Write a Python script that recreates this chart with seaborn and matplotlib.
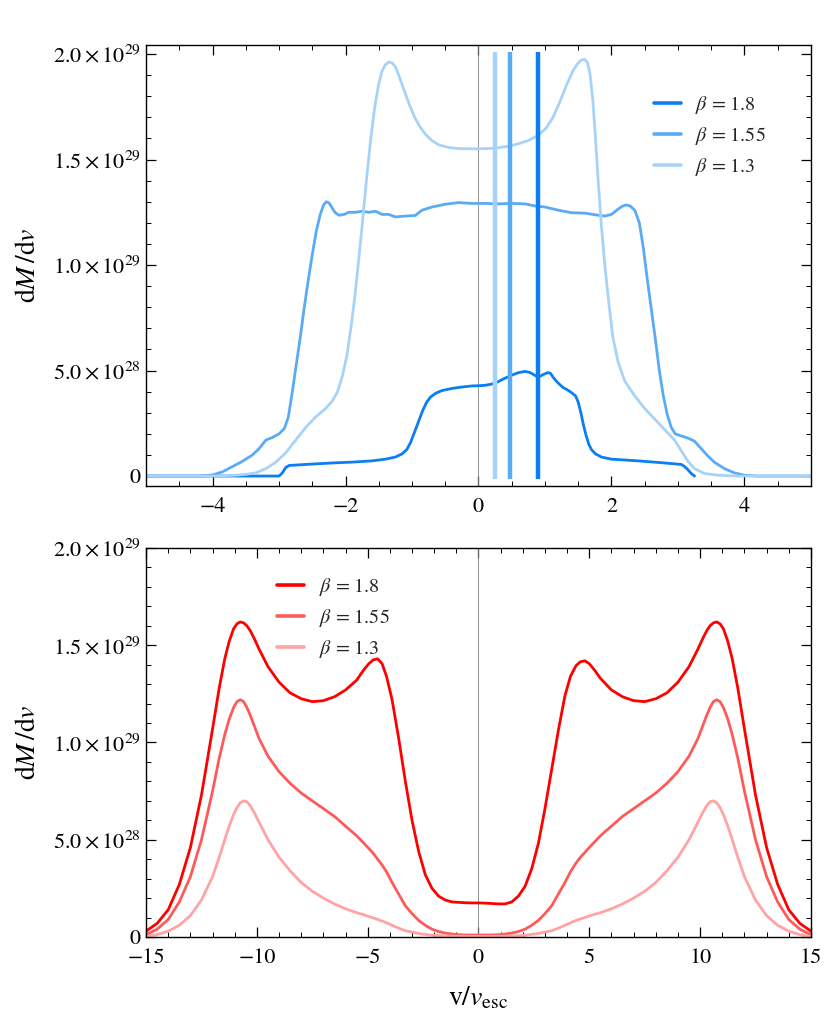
import numpy as np
import pandas as pd
import matplotlib
matplotlib.use('Agg')
import matplotlib.pyplot as plt
from matplotlib.ticker import MultipleLocator
import seaborn as sns

# 라벨/범례
labels = [r'$\beta$ = 1.8', r'$\beta$ = 1.55', r'$\beta$ = 1.3']
blues = ['#0a7ff5', '#5aabf5', '#a8d3f9']
reds = ['#ff0000', '#ff5a5a', '#ffa3a3']

# y 값 단위: 1e29
ytick_vals = [0, 0.5, 1.0, 1.5, 2.0]
ytick_labels = ['0', r'$5.0\times10^{28}$', r'$1.0\times10^{29}$',
                r'$1.5\times10^{29}$', r'$2.0\times10^{29}$']

# 위 패널 (v/v_esc, -5..5)
top_x_18 = [-5, -3.0, -2.95, -2.9, -2.85, -2.6, -2.2, -1.9, -1.6, -1.4, -1.25, -1.15, -1.08, -1.02,
            -0.96, -0.9, -0.84, -0.78, -0.72, -0.64, -0.55, -0.4, -0.25, -0.1, 0.0, 0.1, 0.2, 0.3,
            0.4, 0.5, 0.6, 0.7, 0.78, 0.86, 0.92, 0.98, 1.04, 1.08, 1.13, 1.2, 1.27, 1.34, 1.4,
            1.46, 1.5, 1.54, 1.58, 1.62, 1.66, 1.7, 1.76, 1.85, 2.0, 2.4, 2.8, 3.05, 3.1, 3.15,
            3.2, 3.25]
top_y_18 = [0, 0, 0.015, 0.04, 0.05, 0.055, 0.062, 0.066, 0.072, 0.08, 0.09, 0.105, 0.125, 0.16,
            0.21, 0.26, 0.31, 0.35, 0.375, 0.393, 0.405, 0.415, 0.422, 0.427, 0.428, 0.43, 0.436,
            0.448, 0.464, 0.478, 0.49, 0.496, 0.49, 0.475, 0.472, 0.482, 0.49, 0.488, 0.465, 0.44,
            0.42, 0.408, 0.395, 0.38, 0.35, 0.3, 0.24, 0.19, 0.15, 0.125, 0.105, 0.09, 0.08, 0.072,
            0.062, 0.055, 0.045, 0.03, 0.012, 0.0]

top_x_155 = [-5, -4.2, -4.0, -3.85, -3.7, -3.55, -3.4, -3.3, -3.2, -3.1, -3.0, -2.92, -2.86, -2.8,
             -2.74, -2.68, -2.62, -2.56, -2.5, -2.44, -2.38, -2.33, -2.29, -2.25, -2.21, -2.16, -2.1,
             -2.02, -1.95, -1.85, -1.75, -1.65, -1.55, -1.45, -1.35, -1.25, -1.1, -0.95, -0.85,
             -0.7, -0.5, -0.3, -0.1, 0.1, 0.3, 0.5, 0.7, 0.85, 1.0, 1.2, 1.4, 1.6, 1.8, 1.9, 2.0,
             2.1, 2.16, 2.22, 2.28, 2.35, 2.42, 2.48, 2.54, 2.6, 2.66, 2.72, 2.78, 2.84, 2.9, 2.96,
             3.05, 3.15, 3.25, 3.35, 3.45, 3.55, 3.7, 3.85, 4.0, 4.2, 5.0]
top_y_155 = [0, 0, 0.005, 0.02, 0.045, 0.07, 0.1, 0.13, 0.17, 0.183, 0.2, 0.225, 0.28, 0.4, 0.53,
             0.66, 0.8, 0.93, 1.05, 1.16, 1.24, 1.285, 1.3, 1.295, 1.275, 1.25, 1.236, 1.24, 1.25,
             1.25, 1.255, 1.25, 1.255, 1.24, 1.24, 1.228, 1.232, 1.235, 1.26, 1.275, 1.288, 1.296,
             1.292, 1.292, 1.29, 1.292, 1.29, 1.28, 1.275, 1.26, 1.248, 1.246, 1.236, 1.232, 1.24,
             1.265, 1.278, 1.285, 1.28, 1.26, 1.2, 1.08, 0.93, 0.79, 0.65, 0.5, 0.38, 0.29, 0.23,
             0.2, 0.19, 0.18, 0.165, 0.13, 0.095, 0.065, 0.035, 0.015, 0.004, 0, 0]

top_x_13 = [-5, -4.0, -3.7, -3.5, -3.35, -3.2, -3.05, -2.9, -2.75, -2.6, -2.45, -2.3, -2.2, -2.12,
            -2.05, -1.98, -1.92, -1.86, -1.8, -1.74, -1.68, -1.62, -1.56, -1.5, -1.45, -1.4,
            -1.35, -1.3, -1.25, -1.2, -1.12, -1.04, -0.96, -0.88, -0.8, -0.7, -0.6, -0.45, -0.3,
            -0.15, 0.0, 0.15, 0.3, 0.45, 0.6, 0.75, 0.9, 1.02, 1.12, 1.22, 1.32, 1.42, 1.48, 1.54,
            1.59, 1.64, 1.68, 1.72, 1.76, 1.8, 1.85, 1.9, 1.96, 2.02, 2.1, 2.2, 2.35, 2.5, 2.65,
            2.8, 2.95, 3.05, 3.15, 3.25, 3.4, 3.6, 3.9, 5.0]
top_y_13 = [0, 0, 0.003, 0.008, 0.015, 0.035, 0.065, 0.11, 0.17, 0.23, 0.28, 0.32, 0.355, 0.4,
            0.47, 0.57, 0.7, 0.85, 1.03, 1.22, 1.42, 1.6, 1.75, 1.86, 1.92, 1.95, 1.962, 1.958,
            1.94, 1.9, 1.83, 1.76, 1.7, 1.655, 1.62, 1.59, 1.57, 1.557, 1.552, 1.551, 1.551,
            1.552, 1.556, 1.563, 1.575, 1.59, 1.615, 1.65, 1.7, 1.77, 1.85, 1.92, 1.95, 1.97,
            1.975, 1.96, 1.9, 1.78, 1.6, 1.4, 1.18, 1.0, 0.82, 0.66, 0.54, 0.45, 0.38, 0.32,
            0.27, 0.22, 0.17, 0.12, 0.07, 0.035, 0.012, 0.004, 0, 0]

# 위 패널 세로선 위치 (1.8, 1.55, 1.3)
vline_x = [0.895, 0.475, 0.25]

# 아래 패널 (-15..15)
bot_x = [-15, -14.5, -14, -13.5, -13, -12.5, -12, -11.7, -11.45, -11.25, -11.05, -10.9, -10.75,
         -10.6, -10.45, -10.3, -10.1, -9.9, -9.5, -9, -8.5, -8, -7.5, -7, -6.5, -6, -5.5, -5.2,
         -4.95, -4.75, -4.55, -4.35, -4.15, -3.9, -3.6, -3.3, -3, -2.7, -2.4, -2.1, -1.8, -1.5,
         -1.2, -0.9, -0.6, -0.3, 0, 0.3, 0.6, 0.9, 1.2, 1.5, 1.8, 2.1, 2.4, 2.7, 3.0, 3.3, 3.6,
         3.9, 4.15, 4.4, 4.6, 4.8, 5.0, 5.25, 5.5, 6, 6.5, 7, 7.5, 8, 8.5, 9, 9.5, 9.9, 10.1,
         10.3, 10.45, 10.6, 10.75, 10.9, 11.05, 11.25, 11.45, 11.7, 12, 12.5, 13, 13.5, 14,
         14.5, 15]
bot_y_18 = [0.03, 0.07, 0.14, 0.27, 0.46, 0.73, 1.07, 1.28, 1.43, 1.52, 1.585, 1.61, 1.62, 1.615,
            1.6, 1.575, 1.53, 1.48, 1.39, 1.31, 1.255, 1.225, 1.21, 1.215, 1.235, 1.27, 1.32, 1.37,
            1.405, 1.425, 1.43, 1.405, 1.34, 1.22, 1.02, 0.8, 0.6, 0.44, 0.32, 0.25, 0.21, 0.19,
            0.18, 0.178, 0.176, 0.175, 0.175, 0.174, 0.172, 0.17, 0.17, 0.18, 0.21, 0.26, 0.35,
            0.48, 0.66, 0.86, 1.06, 1.24, 1.34, 1.395, 1.415, 1.42, 1.405, 1.37, 1.33, 1.27, 1.235,
            1.215, 1.21, 1.225, 1.255, 1.31, 1.39, 1.48, 1.53, 1.575, 1.6, 1.615, 1.62, 1.61, 1.585,
            1.52, 1.43, 1.28, 1.07, 0.73, 0.46, 0.27, 0.14, 0.07, 0.03]
bot_y_155 = [0.012, 0.04, 0.09, 0.18, 0.31, 0.5, 0.75, 0.92, 1.04, 1.12, 1.18, 1.21, 1.22, 1.21,
             1.18, 1.14, 1.08, 1.02, 0.93, 0.85, 0.79, 0.74, 0.7, 0.66, 0.62, 0.57, 0.52, 0.485,
             0.455, 0.43, 0.4, 0.37, 0.335, 0.28, 0.22, 0.16, 0.12, 0.085, 0.06, 0.04, 0.028, 0.02,
             0.015, 0.012, 0.01, 0.01, 0.01, 0.01, 0.01, 0.012, 0.015, 0.02, 0.028, 0.04, 0.06,
             0.085, 0.12, 0.16, 0.22, 0.28, 0.335, 0.38, 0.41, 0.435, 0.46, 0.49, 0.52, 0.57, 0.62,
             0.66, 0.7, 0.74, 0.79, 0.85, 0.93, 1.02, 1.08, 1.14, 1.18, 1.21, 1.22, 1.21, 1.18,
             1.12, 1.04, 0.92, 0.75, 0.5, 0.31, 0.18, 0.09, 0.04, 0.012]
bot_y_13 = [0.003, 0.012, 0.03, 0.06, 0.11, 0.19, 0.31, 0.41, 0.5, 0.57, 0.63, 0.665, 0.69, 0.7,
            0.695, 0.675, 0.635, 0.59, 0.5, 0.41, 0.34, 0.28, 0.235, 0.2, 0.17, 0.145, 0.125,
            0.115, 0.105, 0.098, 0.09, 0.082, 0.073, 0.06, 0.045, 0.032, 0.025, 0.018, 0.013,
            0.009, 0.007, 0.005, 0.004, 0.004, 0.003, 0.003, 0.003, 0.003, 0.003, 0.004, 0.004,
            0.005, 0.007, 0.009, 0.013, 0.018, 0.025, 0.032, 0.045, 0.06, 0.073, 0.085, 0.093,
            0.1, 0.108, 0.117, 0.125, 0.145, 0.17, 0.2, 0.235, 0.28, 0.34, 0.41, 0.5, 0.59, 0.635,
            0.675, 0.695, 0.7, 0.69, 0.665, 0.63, 0.57, 0.5, 0.41, 0.31, 0.19, 0.11, 0.06, 0.03,
            0.012, 0.003]


def long_df(xs, ys):
    frames = []
    for lab, x, y in zip(labels, xs, ys):
        frames.append(pd.DataFrame({'x': x, 'y': y, 'beta': lab}))
    return pd.concat(frames, ignore_index=True)


def style_axes(ax):
    for s in ax.spines.values():
        s.set_linewidth(1.0)
        s.set_color('black')
    ax.tick_params(which='both', direction='in', top=True, right=True, labelsize=16,
                   colors='black')
    ax.tick_params(which='major', length=7, width=0.9)
    ax.tick_params(which='minor', length=3.5, width=0.7)
    ax.tick_params(axis='x', which='both', pad=8)
    ax.tick_params(axis='y', which='both', pad=4)
    ax.yaxis.set_minor_locator(MultipleLocator(0.1))
    ax.set_yticks(ytick_vals)
    ax.set_yticklabels(ytick_labels)
    ax.set_ylabel(r'd$M\,$/d$v$', fontsize=20, labelpad=8, color='black')


sns.set_style('ticks')
plt.rcParams['font.family'] = ['STIXGeneral', 'DejaVu Serif']
plt.rcParams['mathtext.fontset'] = 'stix'

fig = plt.figure(figsize=(8.3, 10.22), dpi=100)
ax1 = fig.add_axes([0.176, 0.5245, 0.801, 0.4315])
ax2 = fig.add_axes([0.176, 0.0832, 0.801, 0.3806])

# 위 패널
top_df = long_df([top_x_18, top_x_155, top_x_13], [top_y_18, top_y_155, top_y_13])
ax1.axvline(0, color='#808080', lw=0.6, zorder=1)
sns.lineplot(data=top_df, x='x', y='y', hue='beta', estimator=None, sort=False,
             palette=dict(zip(labels, blues)), lw=2.0, ax=ax1, legend=False)
for i, xv in enumerate(vline_x):
    ax1.plot([xv, xv], [-0.012, 2.008], color=blues[i], lw=3.2, solid_capstyle='butt', zorder=5)
ax1.set_xlim(-5, 5)
ax1.set_ylim(-0.047, 2.043)
ax1.xaxis.set_major_locator(MultipleLocator(2))
ax1.xaxis.set_minor_locator(MultipleLocator(0.5))
ax1.set_xlabel('')
style_axes(ax1)
handles = [plt.Line2D([], [], color=c, lw=2.6) for c in blues]
ax1.legend(handles, labels, loc='upper right', bbox_to_anchor=(0.96, 0.93), frameon=False,
           fontsize=14.5, handlelength=1.35, labelspacing=0.45, handletextpad=0.7)

# 아래 패널
bot_df = long_df([bot_x, bot_x, bot_x], [bot_y_18, bot_y_155, bot_y_13])
ax2.axvline(0, color='#808080', lw=0.6, zorder=1)
sns.lineplot(data=bot_df, x='x', y='y', hue='beta', estimator=None, sort=False,
             palette=dict(zip(labels, reds)), lw=2.0, ax=ax2, legend=False)
ax2.set_xlim(-15, 15)
ax2.set_ylim(0, 2.0)
ax2.xaxis.set_major_locator(MultipleLocator(5))
ax2.xaxis.set_minor_locator(MultipleLocator(1))
ax2.set_xlabel(r'v/$v_{\rm esc}$', fontsize=20, labelpad=12, color='black')
style_axes(ax2)
handles = [plt.Line2D([], [], color=c, lw=2.6) for c in reds]
ax2.legend(handles, labels, loc='upper left', bbox_to_anchor=(0.17, 0.975), frameon=False,
           fontsize=14.5, handlelength=1.35, labelspacing=0.45, handletextpad=0.7)

fig.savefig('out.png', dpi=100)
